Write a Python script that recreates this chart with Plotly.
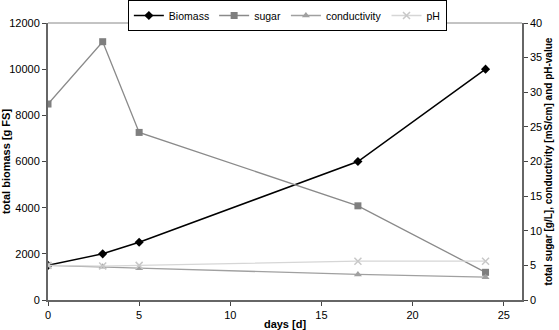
import plotly.graph_objects as go

days = [0, 3, 5, 17, 24]
biomass = [1500, 2000, 2500, 6000, 10000]
sugar = [28.3, 37.3, 24.2, 13.6, 4.0]
conductivity = [5.0, 4.8, 4.6, 3.7, 3.3]
ph = [5.0, 4.9, 5.0, 5.6, 5.6]

x_ticks = [0, 5, 10, 15, 20, 25]

font = "Liberation Sans, Arial, sans-serif"
fig = go.Figure()
fig.add_trace(go.Scatter(x=days, y=biomass, name="Biomass", mode="lines+markers",
                         line=dict(color="black", width=1.5),
                         marker=dict(symbol="diamond", size=7, color="black")))
fig.add_trace(go.Scatter(x=days, y=sugar, name="sugar", mode="lines+markers", yaxis="y2",
                         line=dict(color="#8a8a8a", width=1.3),
                         marker=dict(symbol="square", size=7, color="#7f7f7f")))
fig.add_trace(go.Scatter(x=days, y=conductivity, name="conductivity", mode="lines+markers", yaxis="y2",
                         line=dict(color="#a0a0a0", width=1.3),
                         marker=dict(symbol="triangle-up", size=7, color="#a0a0a0")))
fig.add_trace(go.Scatter(x=days, y=ph, name="pH", mode="lines+markers", yaxis="y2",
                         line=dict(color="#d6d6d6", width=1.3),
                         marker=dict(symbol="x-thin", size=7, color="#c8c8c8",
                                     line=dict(color="#c8c8c8", width=1.5))))

fig.update_layout(
    width=559, height=330,
    margin=dict(l=48, r=37, t=23, b=30, autoexpand=False),
    plot_bgcolor="white", paper_bgcolor="white",
    font=dict(family=font, size=11, color="black"),
    showlegend=True,
    legend=dict(orientation="h", x=0.505, xanchor="center", y=1.083, yanchor="top",
                bordercolor="black", borderwidth=1,
                bgcolor="white", font=dict(size=10.5), itemwidth=30,
                tracegroupgap=0, traceorder="normal"),
    xaxis=dict(range=[0, 26], tickvals=x_ticks, ticks="outside", ticklen=4,
               showline=True, linecolor="#666", linewidth=2, mirror=False,
               showgrid=False, zeroline=False,
               title=dict(text="<b>days [d]</b>", standoff=4, font=dict(size=11))),
    yaxis=dict(range=[0, 12000], dtick=2000, tickformat="d", ticks="outside", ticklen=4,
               showline=True, linecolor="#666", linewidth=2,
               showgrid=False, zeroline=False,
               title=dict(text="<b>total biomass [g FS]</b>", standoff=6, font=dict(size=11))),
    yaxis2=dict(range=[0, 40], dtick=5, overlaying="y", side="right",
                ticks="outside", ticklen=4, showline=True, linecolor="#666", linewidth=1.5,
                showgrid=False, zeroline=False,
                title=dict(text="<b>total sugar [g/L], conductivity [mS/cm] and pH-value</b>",
                           standoff=4, font=dict(size=10))),
)
fig.add_shape(type="line", xref="paper", yref="paper", x0=0, x1=1, y0=1, y1=1,
              line=dict(color="#888", width=1))
fig.write_html("out.html", config={"displayModeBar": False},
               post_script="document.body.style.margin='0';")
